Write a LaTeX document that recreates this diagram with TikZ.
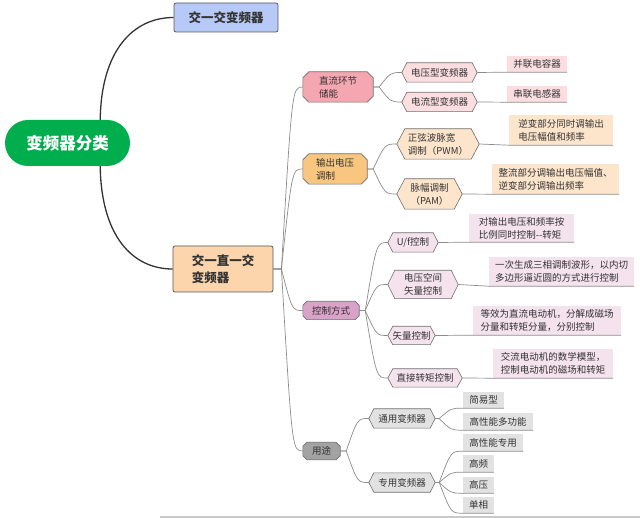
\documentclass[tikz,border=0pt]{standalone}
\usepackage{fontspec}
\setmainfont{Noto Sans CJK SC}
\usetikzlibrary{calc}
\pgfdeclarelayer{background}
\pgfsetlayers{background,main}
\definecolor{txt}{HTML}{333333}
\definecolor{rootgreen}{HTML}{00AE4E}
\definecolor{blueA}{HTML}{B7CAF7}
\definecolor{peach}{HTML}{FCD5AD}
\definecolor{pinkB}{HTML}{F4A7B0}
\definecolor{orangeB}{HTML}{F9C67F}
\definecolor{mauveB}{HTML}{D9A2C8}
\definecolor{grayB}{HTML}{A3A3A3}
\definecolor{pinkC}{HTML}{FCDEE1}
\definecolor{orangeC}{HTML}{FDE5CC}
\definecolor{mauveC}{HTML}{F4E2EC}
\definecolor{grayC}{HTML}{E2E2E2}
\definecolor{edge}{HTML}{6E6E6E}
\definecolor{linegray}{HTML}{8C8C8C}
\definecolor{band}{HTML}{C8C8C8}
\tikzset{
  base/.style={inner sep=0pt, text=txt, align=left, font=\fontsize{9.5}{13}\selectfont},
  leaf/.style={base, fill=#1},
  lvlone/.style={inner sep=0pt, text=txt, align=left, draw=edge!80!black, line width=0.8pt,
     rounded corners=2pt, fill=#1, font=\bfseries\fontsize{12.5}{17}\selectfont},
  shapeline/.style={draw=edge, line width=0.6pt},
  conn/.style={draw=linegray, line width=0.7pt},
  mainconn/.style={draw=black!80, line width=1.3pt}
}
\newcommand\N[7]{\node[#6, minimum width=#4pt, minimum height=#5pt] (#1) at (#2,#3) {#7};}
\newcommand\octshape[3]{\draw[shapeline, fill=#2] ([xshift=#3pt]#1.north west) -- ([xshift=-#3pt]#1.north east) -- ([yshift=-#3pt]#1.north east) -- ([yshift=#3pt]#1.south east) -- ([xshift=-#3pt]#1.south east) -- ([xshift=#3pt]#1.south west) -- ([yshift=#3pt]#1.south west) -- ([yshift=-#3pt]#1.north west) -- cycle;}
\newcommand\hexshape[3]{\draw[shapeline, fill=#2] (#1.west) -- ([xshift=#3pt]#1.north west) -- ([xshift=-#3pt]#1.north east) -- (#1.east) -- ([xshift=-#3pt]#1.south east) -- ([xshift=#3pt]#1.south west) -- cycle;}
\newcommand\conn[3]{\draw[conn] let \p1=([xshift=#1pt]#2.east), \p2=(#3.west) in (#2.east) -- (\p1) .. controls ({0.5*\x1+0.5*\x2},\y2) .. (\p2);}
\newcommand\leafconn[3]{\draw[conn] let \p1=([xshift=#1pt]#2.east), \p2=(#3.south west) in (#2.east) -- (\p1) .. controls ({0.5*\x1+0.5*\x2},\y2) .. (\p2) -- (#3.south east);}
\begin{document}
\begin{tikzpicture}[x=1pt,y=-1pt]
\useasboundingbox (0,0) rectangle (640,518);
\fill[band] (160,515.5) rectangle (640,518);
% root and level 1
\node[fill=rootgreen, rounded corners=23pt, minimum width=125pt, minimum height=46pt, inner sep=0pt,
      text=white, font=\bfseries\fontsize{16.5}{20}\selectfont] (root) at (67.5,143) {变频器分类};
\N{n1}{226}{17.5}{104}{29}{lvlone=blueA}{交一交变频器}
\N{n2}{223}{269}{100}{46}{lvlone=peach}{交一直一交\\变频器}
% level 2
\N{a}{338}{87}{70}{30}{base}{直流环节\\储能}
\N{b}{335}{169}{64}{30}{base}{输出电压\\调制}
\N{c}{331}{310.5}{56}{18}{base}{控制方式}
\N{d}{321.5}{451}{37}{17}{base}{用途}
% level 3
\N{a1}{439.5}{72.5}{75}{19}{base}{电压型变频器}
\N{a2}{439.5}{102}{75}{19}{base}{电流型变频器}
\N{b1}{438}{144}{82}{30}{base}{正弦波脉宽\\调制（PWM）}
\N{b2}{429.5}{194}{65}{30}{base}{脉幅调制\\（PAM）}
\N{c1}{413}{242.5}{50}{19}{base}{U/f控制}
\N{c2}{423}{284.5}{70}{28}{base}{电压空间\\矢量控制}
\N{c3}{411.5}{335.5}{47}{18}{base}{矢量控制}
\N{c4}{425}{378}{74}{18}{base}{直接转矩控制}
\N{d1}{402}{418.5}{66}{19}{base}{通用变频器}
\N{d2}{402}{482.5}{66}{19}{base}{专用变频器}
% leaves
\N{a1l}{537}{64}{60}{16}{leaf=pinkC}{并联电容器}
\N{a2l}{537}{94}{60}{16}{leaf=pinkC}{串联电感器}
\N{b1l}{561}{130}{104}{30}{leaf=orangeC}{逆变部分同时调输出\\电压幅值和频率}
\N{b2l}{555.5}{179}{127}{30}{leaf=orangeC}{整流部分调输出电压幅值、\\逆变部分调输出频率}
\N{c1l}{521.5}{228}{105}{28}{leaf=mauveC}{对输出电压和频率按\\比例同时控制-{}-转矩}
\N{c2l}{561.5}{271.5}{145}{29}{leaf=mauveC}{一次生成三相调制波形，以内切\\多边形逼近圆的方式进行控制}
\N{c3l}{547}{320.5}{148}{29}{leaf=mauveC}{等效为直流电动机，分解成磁场\\分量和转矩分量，分别控制}
\N{c4l}{553}{363.5}{120}{29}{leaf=mauveC}{交流电动机的数学模型，\\控制电动机的磁场和转矩}
\N{d1a}{483.5}{400}{41}{16}{leaf=grayC}{简易型}
\N{d1b}{498}{421.5}{70}{17}{leaf=grayC}{高性能多功能}
\N{d2a}{493}{442.5}{60}{17}{leaf=grayC}{高性能专用}
\N{d2b}{478.5}{463.5}{31}{17}{leaf=grayC}{高频}
\N{d2c}{478.5}{485}{31}{16}{leaf=grayC}{高压}
\N{d2d}{478.5}{505}{31}{16}{leaf=grayC}{单相}
\begin{pgfonlayer}{background}
\octshape{a}{pinkB}{6}
\octshape{b}{orangeB}{6}
\octshape{c}{mauveB}{4}
\octshape{d}{grayB}{4}
\hexshape{a1}{pinkC}{5}
\hexshape{a2}{pinkC}{5}
\hexshape{b1}{orangeC}{8}
\hexshape{b2}{orangeC}{8}
\hexshape{c1}{mauveC}{5}
\hexshape{c2}{mauveC}{7}
\hexshape{c3}{mauveC}{5}
\hexshape{c4}{mauveC}{5}
\hexshape{d1}{grayC}{5}
\hexshape{d2}{grayC}{5}
\end{pgfonlayer}
% connectors
\draw[mainconn] ([xshift=-30pt]root.north east) .. controls +(1,-70) and +(-40,0) .. (n1.west);
\draw[mainconn] ([xshift=-30pt]root.south east) .. controls +(1,70) and +(-40,0) .. (n2.west);
\conn{8}{n2}{a}
\conn{8}{n2}{b}
\conn{8}{n2}{c}
\conn{8}{n2}{d}
\conn{6}{a}{a1}
\conn{6}{a}{a2}
\conn{6}{b}{b1}
\conn{6}{b}{b2}
\conn{6}{c}{c1}
\conn{6}{c}{c2}
\conn{6}{c}{c3}
\conn{6}{c}{c4}
\conn{6}{d}{d1}
\conn{6}{d}{d2}
\leafconn{0}{a1}{a1l}
\leafconn{0}{a2}{a2l}
\leafconn{0}{b1}{b1l}
\leafconn{0}{b2}{b2l}
\leafconn{0}{c1}{c1l}
\leafconn{0}{c2}{c2l}
\leafconn{0}{c3}{c3l}
\leafconn{0}{c4}{c4l}
\leafconn{4}{d1}{d1a}
\leafconn{4}{d1}{d1b}
\leafconn{4}{d2}{d2a}
\leafconn{4}{d2}{d2b}
\leafconn{4}{d2}{d2c}
\leafconn{4}{d2}{d2d}
\end{tikzpicture}
\end{document}
